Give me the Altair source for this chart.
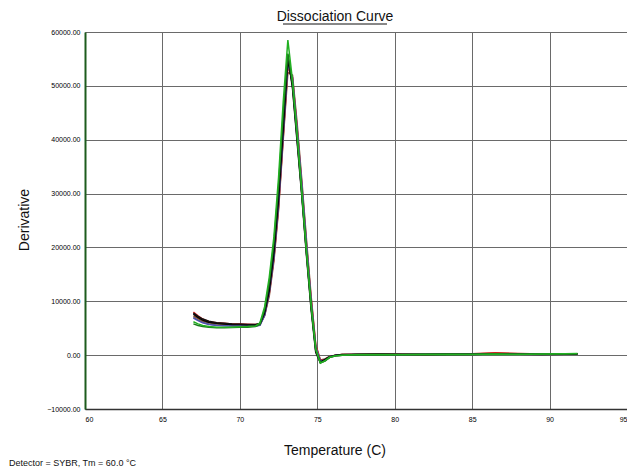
import altair as alt
import pandas as pd

temps = [67.0, 67.3, 67.6, 68.0, 68.5, 69.0, 69.5, 70.0, 70.5, 71.0, 71.3, 71.6, 71.9,
         72.2, 72.5, 72.8, 73.1, 73.4, 73.7, 74.0, 74.3, 74.6, 74.9, 75.2, 75.5, 75.8,
         76.2, 76.6, 77.5, 79.0, 80.5, 82.0, 83.5, 85.0, 86.5, 88.0, 89.5, 91.0, 91.8]

well_a = [7600, 7000, 6500, 6100, 5900, 5800, 5700, 5700, 5650, 5600, 5800, 7800, 12000, 19000, 29000, 42000, 55000, 50000, 40000, 30000, 19000, 9000, 800, -1300, -800, -300, 0, 100, 100, 150, 100, 100, 150, 100, 200, 150, 100, 150, 200]
well_b = [6200, 5800, 5500, 5300, 5200, 5200, 5200, 5250, 5300, 5400, 6000, 9000, 14500, 22000, 33000, 47000, 58500, 51000, 41000, 30500, 19500, 9500, 1200, -1500, -1000, -400, -100, 0, 50, 100, 50, 100, 150, 100, 150, 100, 200, 250, 300]
well_c = [8000, 7300, 6700, 6200, 6000, 5900, 5800, 5800, 5750, 5700, 5800, 7500, 11500, 18000, 27500, 40500, 53500, 51500, 42000, 31500, 20500, 10500, 1800, -1000, -800, -300, 0, 100, 150, 200, 150, 100, 200, 250, 450, 300, 200, 150, 200]
well_d = [5800, 5500, 5300, 5200, 5100, 5100, 5150, 5200, 5200, 5300, 5700, 8500, 13500, 21000, 31500, 45000, 56000, 50500, 40500, 30000, 19000, 9000, 900, -1400, -1100, -400, -100, 0, 100, 50, 100, 150, 100, 150, 250, 200, 150, 200, 250]
well_e = [7300, 6800, 6300, 6000, 5800, 5700, 5700, 5650, 5600, 5600, 5700, 7300, 11000, 17500, 27000, 40000, 52500, 52000, 43000, 32500, 21500, 11000, 2000, -900, -700, -200, 0, 100, 100, 200, 150, 150, 200, 200, 350, 250, 200, 200, 250]
well_f = [7000, 6500, 6100, 5800, 5600, 5500, 5500, 5450, 5400, 5400, 5600, 7600, 11800, 18500, 28500, 41500, 54500, 50500, 41000, 31000, 20000, 9800, 1300, -1200, -900, -300, 0, 50, 100, 100, 100, 100, 150, 150, 200, 150, 150, 200, 200]
well_g = [6900, 6400, 6000, 5700, 5500, 5450, 5400, 5400, 5400, 5400, 5550, 7400, 11600, 18200, 28000, 41000, 54000, 51500, 42000, 31800, 20800, 10200, 1500, -1100, -900, -300, 0, 50, 100, 100, 100, 150, 150, 150, 200, 150, 150, 200, 200]
well_h = [7800, 7200, 6700, 6300, 6000, 5900, 5800, 5750, 5700, 5700, 5900, 8200, 12800, 20000, 30500, 43500, 55800, 49500, 39500, 29500, 18500, 8500, 500, -1400, -1000, -400, -100, 0, 100, 150, 100, 100, 150, 150, 200, 150, 150, 200, 250]

wells = {"E": well_e, "C": well_c, "F": well_f, "G": well_g, "A": well_a, "H": well_h, "D": well_d, "B": well_b}
well_colors = {"E": "#8b4a2b", "C": "#d02020", "F": "#666666", "G": "#5050b0",
               "A": "#000000", "H": "#111111", "D": "#1c7a1c", "B": "#22b022"}

x_ticks = [60, 65, 70, 75, 80, 85, 90, 95]
y_ticks = [-10000, 0, 10000, 20000, 30000, 40000, 50000, 60000]

rows = []
for name, vals in wells.items():
    for t, v in zip(temps, vals):
        rows.append({"well": name, "temp": t, "deriv": v})
df = pd.DataFrame(rows)

W, H = 542, 377
FONT = "Liberation Sans"

lines = alt.Chart(df).mark_line(strokeWidth=1.5).encode(
    x=alt.X("temp:Q", scale=alt.Scale(domain=[60, 95], nice=False),
            axis=alt.Axis(values=x_ticks, format="d", title=None, ticks=False,
                          labelFontSize=7, labelFont=FONT, labelColor="#000000",
                          labelPadding=6, grid=True, gridColor="#6a6a6a",
                          gridOpacity=1, domainColor="#333333", domainWidth=1.5)),
    y=alt.Y("deriv:Q", scale=alt.Scale(domain=[-10000, 60000], nice=False),
            axis=alt.Axis(values=y_ticks, format=".2f", title=None, ticks=False,
                          labelFontSize=7, labelFont=FONT, labelColor="#000000",
                          labelPadding=5, grid=True, gridColor="#6a6a6a",
                          gridOpacity=1, domainColor="#1d5c1d", domainWidth=2)),
    color=alt.Color("well:N", legend=None,
                    scale=alt.Scale(domain=list(wells.keys()),
                                    range=[well_colors[k] for k in wells.keys()])),
    detail="well:N",
)

title_df = pd.DataFrame({"t": ["Dissociation Curve"]})
title = alt.Chart(title_df).mark_text(font=FONT, fontSize=14, align="center",
                                      baseline="alphabetic", color="#111111").encode(
    text="t:N", x=alt.value(250), y=alt.value(-11))
underline = alt.Chart(title_df).mark_rule(color="#111111", strokeWidth=1).encode(
    x=alt.value(198), x2=alt.value(302), y=alt.value(-8))

ytitle = alt.Chart(pd.DataFrame({"t": ["Derivative"]})).mark_text(
    font=FONT, fontSize=14, angle=270, align="center", baseline="middle",
    color="#111111").encode(text="t:N", x=alt.value(-60), y=alt.value(188))

xtitle = alt.Chart(pd.DataFrame({"t": ["Temperature (C)"]})).mark_text(
    font=FONT, fontSize=14, align="center", baseline="middle",
    color="#111111").encode(text="t:N", x=alt.value(250), y=alt.value(419))

foot = alt.Chart(pd.DataFrame({"t": ["Detector = SYBR, Tm = 60.0 °C"]})).mark_text(
    font=FONT, fontSize=9, align="left", baseline="alphabetic",
    color="#111111").encode(text="t:N", x=alt.value(-76), y=alt.value(434))

chart = alt.layer(lines, title, underline, ytitle, xtitle, foot).properties(
    width=W, height=H,
    autosize=alt.AutoSizeParams(type="none"),
    padding={"left": 77, "top": 24, "right": 0, "bottom": 62},
).configure_view(stroke="#555555", strokeWidth=1).configure(background="white")

chart.save("out.html", embed_options={"renderer": "svg", "actions": False})
